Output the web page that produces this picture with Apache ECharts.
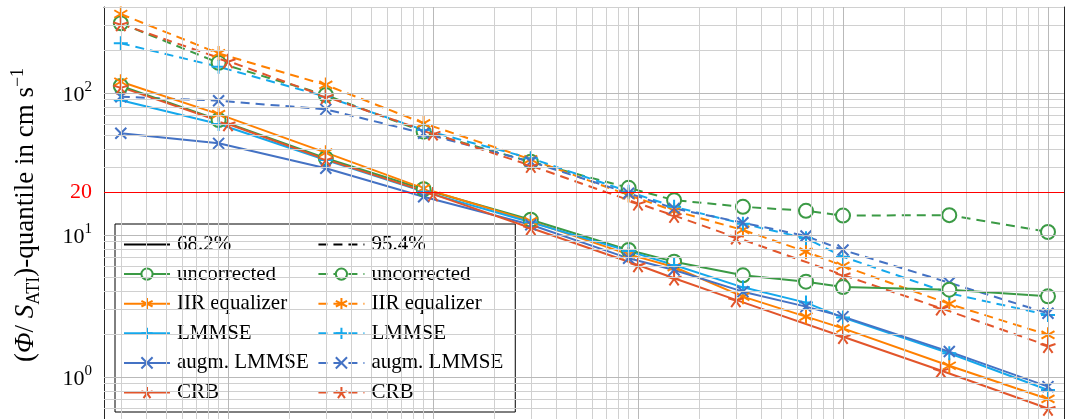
<!DOCTYPE html>
<html>
<head>
<meta charset="utf-8">
<script src="https://cdn.jsdelivr.net/npm/echarts@6/dist/echarts.min.js"></script>
<style>
  html, body { margin: 0; padding: 0; background: #fff; }
  #chart { width: 1069px; height: 419px; }
</style>
</head>
<body>
<div id="chart"></div>
<script>
// Sample positions (the CRB is evaluated on its own grid)
const xMeasured = [3, 9, 30, 90, 300, 900, 1500, 3250, 6600, 10000, 33000, 100000];
const xBound    = [3, 10, 30, 100, 300, 1000, 1500, 3000, 10000, 30000, 100000];

// 68.2 % quantiles
const uncorrected68 = [112, 64.5, 34.7, 21.0, 12.8, 7.84, 6.49, 5.2, 4.69, 4.3, 4.12, 3.7];
const iir68         = [120, 71, 38, 21.3, 12.5, 7.3, 5.95, 3.68, 2.66, 2.2, 1.2, 0.70];
const lmmse68       = [89, 60.5, 33.7, 20.2, 12.3, 7.7, 6.15, 4.28, 3.34, 2.62, 1.47, 0.81];
const augm68        = [52, 44.2, 29.5, 18.6, 11.8, 6.85, 5.67, 3.99, 3.13, 2.66, 1.51, 0.855];
const crb68         = [110, 60.5, 34.1, 19.4, 11.2, 6.15, 4.96, 3.49, 1.92, 1.11, 0.60];

// 95.4 % quantiles
const uncorrected95 = [310, 163, 96.8, 53.4, 32.8, 21.5, 17.6, 15.8, 14.8, 13.7, 13.8, 10.5];
const iir95         = [360, 190, 114, 61.2, 34.1, 19.1, 14.8, 10.85, 7.63, 6.05, 3.27, 1.98];
const lmmse95       = [224, 153, 94.2, 54.9, 34.7, 20.2, 15.8, 12.0, 9.48, 7.03, 3.89, 2.73];
const augm95        = [94.2, 88.3, 76.7, 52.0, 32.8, 19.7, 15.4, 12.2, 9.84, 7.84, 4.61, 2.81];
const crb95         = [306, 168, 94.2, 52, 30.8, 16.7, 13.7, 9.63, 5.23, 3.05, 1.66];

const threshold = 20;
const xRange = [2.484, 119700];
const yRange = [0.506, 403.3];

const FONT = '"Liberation Serif", "DejaVu Serif", serif';
const FRAME = '#262626';
const TICK = '#7a7a7a';
const C = {
  uncorrected: '#3b9a45',
  iir: '#ff8000',
  lmmse: '#14a8ec',
  augm: '#4472c4',
  crb: '#e2552b'
};
const SYM = {
  circle: 'emptyCircle',
  asterisk: 'path://M0,-1L0,1M-0.866,-0.5L0.866,0.5M-0.866,0.5L0.866,-0.5',
  plus: 'path://M0,-1L0,1M-1,0L1,0',
  cross: 'path://M-1,-1L1,1M-1,1L1,-1',
  star: 'path://M0,0L0,-1M0,0L-0.951,-0.309M0,0L-0.588,0.809M0,0L0.588,0.809M0,0L0.951,-0.309'
};
const DASH = [9, 6];

function curve(name, xs, ys, color, symbol, size, dashed) {
  return {
    name: name,
    type: 'line',
    data: xs.map((x, i) => [x, ys[i]]),
    symbol: symbol,
    symbolSize: size,
    symbolKeepAspect: true,
    showSymbol: true,
    lineStyle: { color: color, width: 2, type: dashed ? DASH : 'solid' },
    itemStyle: { color: color, borderColor: color, borderWidth: 2 },
    z: 4,
    animation: false
  };
}

// decade grid: 1..9 times each power of ten inside the range
function logGrid(lo, hi) {
  const minor = [], major = [];
  for (let e = Math.floor(Math.log10(lo)); e <= Math.ceil(Math.log10(hi)); e++) {
    const p = Math.pow(10, e);
    for (let m = 1; m <= 9; m++) {
      const v = m * p;
      if (v <= lo || v >= hi) continue;
      (m === 1 ? major : minor).push(v);
    }
  }
  return { minor, major };
}
const gx = logGrid(xRange[0], xRange[1]);
const gy = logGrid(yRange[0], yRange[1]);
const MINOR = '#d0d0d0', MAJOR = '#b9b9b9';
const gridLines = [].concat(
  gy.minor.map(v => ({ yAxis: v })),
  gx.minor.map(v => ({ xAxis: v })),
  gy.major.map(v => ({ yAxis: v, lineStyle: { color: MAJOR } })),
  gx.major.map(v => ({ xAxis: v, lineStyle: { color: MAJOR } }))
);
const xTickValues = gx.minor.concat(gx.major).sort((a, b) => a - b);
const yTickValues = gy.minor.concat(gy.major).sort((a, b) => a - b);

const HIDDEN = { color: 'rgba(0,0,0,0)', borderColor: 'rgba(0,0,0,0)', borderWidth: 0 };
const S68 = ' (68.2%)', S95 = ' (95.4%)';
const series = [
  {
    name: 'grid', type: 'line', data: [], z: 1, silent: true, animation: false,
    markLine: {
      silent: true, animation: false, symbol: ['none', 'none'], label: { show: false },
      lineStyle: { color: MINOR, width: 1, type: 'solid' },
      emphasis: { disabled: true },
      data: gridLines
    }
  },
  {
    name: 'threshold', type: 'line', data: [], z: 2, silent: true, animation: false,
    markLine: {
      silent: true, animation: false, symbol: ['none', 'none'],
      lineStyle: { color: '#ff0000', width: 1.2, type: 'solid' },
      emphasis: { disabled: true },
      label: {
        show: true, position: 'start', distance: 12, formatter: String(threshold),
        color: '#ff0000', fontFamily: FONT, fontSize: 22
      },
      data: [{ yAxis: threshold }]
    }
  },
  { name: '68.2%', type: 'line', data: [], symbol: 'none',
    lineStyle: { color: '#000', width: 2, type: 'solid' }, itemStyle: HIDDEN },
  { name: '95.4%', type: 'line', data: [], symbol: 'none',
    lineStyle: { color: '#000', width: 2, type: DASH }, itemStyle: HIDDEN },

  curve('uncorrected' + S95, xMeasured, uncorrected95, C.uncorrected, SYM.circle, 14, true),
  curve('IIR equalizer' + S95, xMeasured, iir95, C.iir, SYM.asterisk, 15, true),
  curve('LMMSE' + S95, xMeasured, lmmse95, C.lmmse, SYM.plus, 14, true),
  curve('augm. LMMSE' + S95, xMeasured, augm95, C.augm, SYM.cross, 11, true),
  curve('CRB' + S95, xBound, crb95, C.crb, SYM.star, 15, true),

  curve('uncorrected' + S68, xMeasured, uncorrected68, C.uncorrected, SYM.circle, 14, false),
  curve('IIR equalizer' + S68, xMeasured, iir68, C.iir, SYM.asterisk, 15, false),
  curve('LMMSE' + S68, xMeasured, lmmse68, C.lmmse, SYM.plus, 14, false),
  curve('augm. LMMSE' + S68, xMeasured, augm68, C.augm, SYM.cross, 11, false),
  curve('CRB' + S68, xBound, crb68, C.crb, SYM.star, 15, false)
];

const methods = ['uncorrected', 'IIR equalizer', 'LMMSE', 'augm. LMMSE', 'CRB'];
const legendOrder = ['68.2%'].concat(methods.map(m => m + S68), ['95.4%'], methods.map(m => m + S95));

function innerTicks(values) {
  return { show: true, inside: true, length: 7, customValues: values, lineStyle: { color: TICK, width: 1 } };
}

const chart = echarts.init(document.getElementById('chart'), null, { renderer: 'canvas' });
chart.setOption({
  animation: false,
  backgroundColor: '#fff',
  grid: { left: 104, right: 5, top: 7, bottom: 0, show: false },
  xAxis: {
    type: 'log', logBase: 10, min: xRange[0], max: xRange[1], position: 'top',
    axisLine: { show: true, lineStyle: { color: FRAME, width: 1 } },
    axisTick: innerTicks(xTickValues),
    axisLabel: { show: false }, splitLine: { show: false }
  },
  yAxis: [{
    type: 'log', logBase: 10, min: yRange[0], max: yRange[1], position: 'left',
    axisLine: { show: true, lineStyle: { color: FRAME, width: 1 } },
    axisTick: innerTicks(yTickValues),
    splitLine: { show: false },
    axisLabel: {
      margin: 12,
      customValues: gy.major,
      formatter: function (v) {
        const e = Math.log10(v);
        if (Math.abs(e - Math.round(e)) > 1e-6) return '';
        return '{b|10}{s|' + Math.round(e) + '}';
      },
      rich: {
        b: { fontFamily: FONT, fontSize: 22, color: '#000', lineHeight: 18, verticalAlign: 'bottom' },
        s: { fontFamily: FONT, fontSize: 15, color: '#000', lineHeight: 26, verticalAlign: 'top' }
      }
    }
  }, {
    type: 'log', logBase: 10, min: yRange[0], max: yRange[1], position: 'right',
    axisLine: { show: true, lineStyle: { color: FRAME, width: 1 } },
    axisTick: innerTicks(yTickValues),
    axisLabel: { show: false }, splitLine: { show: false }
  }],
  // vertical axis title
  graphic: [{
    type: 'text',
    x: 26, y: 215,
    rotation: Math.PI / 2,
    silent: true,
    style: {
      text: '{n|(}{i|Φ}{n|/ }{i|S}{sub|ATI}{n|)-quantile in cm s}{sup|−1}',
      fill: '#000',
      fontFamily: FONT,
      fontSize: 27,
      align: 'center',
      verticalAlign: 'middle',
      rich: {
        n: { fontFamily: FONT, fontSize: 27, fill: '#000', lineHeight: 34, verticalAlign: 'middle' },
        i: { fontFamily: FONT, fontSize: 27, fill: '#000', fontStyle: 'italic', lineHeight: 34, verticalAlign: 'middle' },
        sub: { fontFamily: FONT, fontSize: 18, fill: '#000', lineHeight: 22, verticalAlign: 'bottom' },
        sup: { fontFamily: FONT, fontSize: 18, fill: '#000', lineHeight: 22, verticalAlign: 'top' }
      }
    }
  }],
  legend: {
    data: legendOrder,
    orient: 'vertical',
    left: 115, top: 224, height: 172,
    padding: [10, 12, 9, 8],
    itemGap: 8.6, itemWidth: 46, itemHeight: 14,
    backgroundColor: '#fff', borderColor: '#000', borderWidth: 1, borderRadius: 0,
    selectedMode: false,
    formatter: function (n) { return n.replace(/ \((68\.2|95\.4)%\)$/, ''); },
    textStyle: { fontFamily: FONT, fontSize: 21, color: '#000', lineHeight: 21, padding: [0, 0, 0, 2] }
  },
  series: series
});
</script>
</body>
</html>
